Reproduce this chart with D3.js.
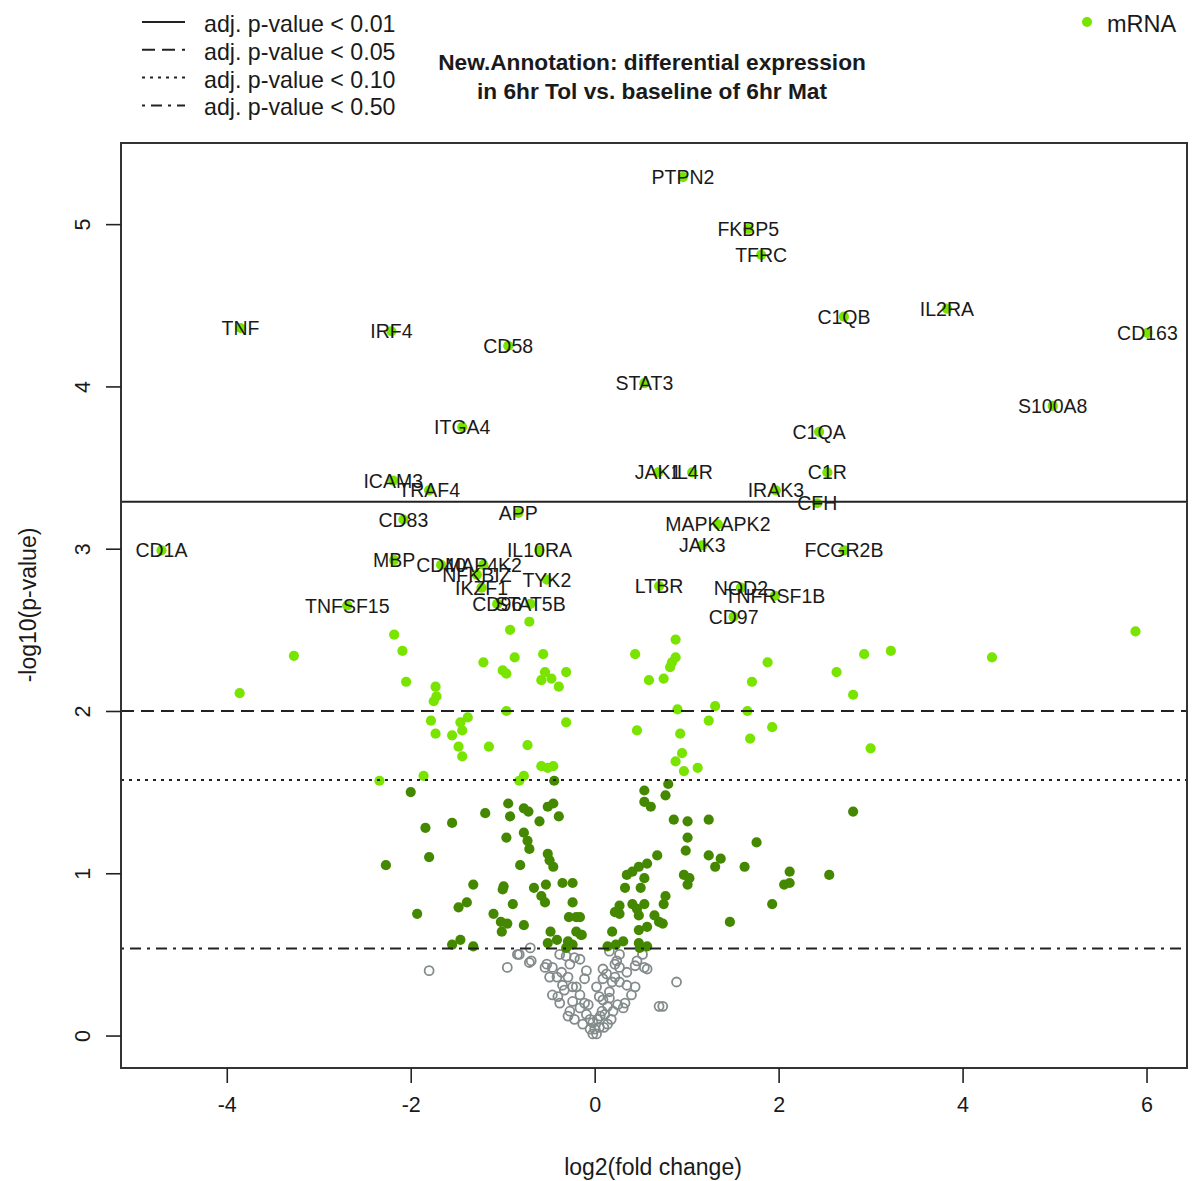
<!DOCTYPE html>
<html><head><meta charset="utf-8">
<script src="https://cdn.jsdelivr.net/npm/d3@7/dist/d3.min.js"></script>
<style>body{margin:0;background:#fff}svg{display:block;font-family:"Liberation Sans",Arial,sans-serif}</style>
</head><body><svg id="c" width="1197" height="1181"></svg>
<script>
// ---------- data ----------
const titleLines = ["New.Annotation: differential expression", "in 6hr Tol vs. baseline of 6hr Mat"];
const xLabel = "log2(fold change)";
const yLabel = "-log10(p-value)";
const xTicks = [-4, -2, 0, 2, 4, 6];
const yTicks = [0, 1, 2, 3, 4, 5];
const thresholdLabels = ["adj. p-value < 0.01", "adj. p-value < 0.05", "adj. p-value < 0.10", "adj. p-value < 0.50"];
const thresholdValues = [3.29, 2.0, 1.574, 0.537];
const seriesName = "mRNA";

const labelGenes = ["PTPN2","FKBP5","TFRC","C1QB","IL2RA","CD163","TNF","IRF4","CD58","STAT3","S100A8","ITGA4","C1QA","JAK1","IL4R","C1R","IRAK3","CFH","ICAM3","TRAF4","CD83","APP","MAPKAPK2","JAK3","FCGR2B","LTBR","NOD2","TNFRSF1B","CD97","CD1A","MBP","CD40","MAP4K2","NFKBIZ","IL10RA","TYK2","IKZF1","CD96","STAT5B","TNFSF15"];
const labelX = [0.96,1.67,1.81,2.71,3.83,6.01,-3.85,-2.21,-0.94,0.54,4.98,-1.44,2.44,0.69,1.06,2.53,1.97,2.42,-2.19,-1.80,-2.08,-0.83,1.34,1.17,2.71,0.70,1.59,1.96,1.51,-4.71,-2.18,-1.67,-1.21,-1.28,-0.60,-0.52,-1.23,-1.06,-0.70,-2.69];
const labelY = [5.29,4.97,4.81,4.43,4.48,4.33,4.36,4.34,4.25,4.02,3.88,3.75,3.72,3.47,3.47,3.47,3.36,3.28,3.42,3.36,3.18,3.22,3.15,3.02,2.99,2.77,2.76,2.71,2.58,2.99,2.93,2.90,2.90,2.84,2.99,2.81,2.76,2.66,2.66,2.65];

// adj. p < 0.10 (unlabeled)
const lightPts = [
[-2.18,2.47],[-0.92,2.50],[-0.71,2.55],[-3.27,2.34],[-2.09,2.37],[-1.21,2.30],[-0.87,2.33],[-0.56,2.35],
[-1.00,2.25],[-0.96,2.23],[-0.54,2.24],[-0.31,2.24],[-0.47,2.20],[-0.58,2.19],[-3.86,2.11],[-2.05,2.18],
[-1.73,2.15],[-1.72,2.09],[-1.75,2.06],[-0.39,2.15],[-0.96,2.00],[-1.78,1.94],[-1.38,1.96],[-1.46,1.93],
[-1.44,1.88],[-0.31,1.93],[-1.73,1.86],[-1.55,1.85],[-1.48,1.78],[-1.15,1.78],[-0.73,1.79],[-1.44,1.72],
[-0.58,1.66],[-0.51,1.65],[-0.45,1.66],[-1.86,1.60],[-2.34,1.57],[-0.77,1.60],[-0.82,1.57],
[5.88,2.49],[0.88,2.44],[0.44,2.35],[2.93,2.35],[3.22,2.37],[4.32,2.33],[0.88,2.33],[0.84,2.30],[0.82,2.27],
[0.59,2.19],[0.75,2.20],[1.88,2.30],[1.71,2.18],[2.63,2.24],[2.81,2.10],[0.90,2.01],[1.31,2.03],[1.66,2.00],
[1.24,1.94],[1.93,1.90],[0.46,1.88],[0.93,1.86],[1.69,1.83],[3.00,1.77],[0.95,1.74],[0.88,1.69],[0.97,1.63],[1.12,1.65]
];
// adj. p < 0.50
const darkPts = [
[-0.44,1.57],[-2.00,1.50],[-0.94,1.43],[-1.19,1.37],[-0.92,1.35],[-0.77,1.40],[-0.72,1.38],[-0.60,1.32],
[-0.51,1.41],[-0.45,1.43],[-0.39,1.35],[-1.55,1.31],[-1.84,1.28],[-0.96,1.22],[-0.77,1.25],[-0.73,1.20],
[-0.71,1.15],[-1.80,1.10],[-0.51,1.12],[-0.49,1.08],[-0.45,1.04],[-0.81,1.05],[-2.27,1.05],[-1.32,0.93],
[-0.99,0.92],[-1.00,0.90],[-0.66,0.91],[-0.53,0.93],[-0.35,0.94],[-0.24,0.94],[-1.39,0.82],[-1.48,0.79],
[-0.89,0.81],[-0.58,0.86],[-0.54,0.82],[-0.24,0.82],[-1.93,0.75],[-1.10,0.75],[-0.28,0.73],[-0.20,0.73],
[-1.02,0.70],[-0.95,0.69],[-0.77,0.68],[-1.01,0.64],[-0.48,0.64],[-0.20,0.64],[-0.15,0.62],[-1.46,0.59],
[-1.55,0.56],[-1.32,0.55],[-0.51,0.57],[-0.41,0.59],[-0.29,0.58],[-0.24,0.56],[-0.31,0.54],
[0.80,1.55],[0.54,1.51],[0.77,1.48],[0.54,1.44],[0.61,1.41],[2.81,1.38],[0.86,1.33],[1.01,1.32],[1.24,1.33],
[1.01,1.22],[1.76,1.19],[0.99,1.14],[0.68,1.11],[1.24,1.11],[1.37,1.09],[0.57,1.06],[0.48,1.04],[1.31,1.04],
[1.63,1.04],[2.12,1.01],[0.41,1.01],[0.35,0.99],[0.97,0.99],[1.03,0.97],[0.54,0.97],[2.55,0.99],[1.01,0.93],
[2.06,0.93],[2.12,0.94],[0.33,0.91],[0.50,0.91],[0.77,0.86],[0.75,0.81],[0.41,0.81],[0.54,0.81],[1.93,0.81],
[0.27,0.80],[0.22,0.76],[0.27,0.75],[0.48,0.74],[0.46,0.78],[0.65,0.74],[0.70,0.70],[0.74,0.69],[1.47,0.70],
[0.48,0.65],[0.57,0.67],[0.19,0.64],[-0.14,0.62],[-0.16,0.73],[0.31,0.58],[0.48,0.57],[0.14,0.55],[0.23,0.56],
[0.57,0.55],[0.49,0.54]
];
// not significant
const greyPts = [
[-1.80,0.40],[-0.95,0.42],[-0.84,0.50],[-0.70,0.54],[-0.71,0.45],[0.89,0.33],[0.74,0.18],[0.70,0.18],[0.57,0.41],
[-0.82,0.50],[-0.69,0.46],[-0.54,0.42],[-0.52,0.44],[-0.46,0.42],[-0.49,0.36],[-0.41,0.36],[-0.36,0.39],
[-0.27,0.44],[-0.22,0.48],[-0.16,0.47],[-0.31,0.49],[-0.38,0.50],[-0.29,0.36],[-0.35,0.31],[-0.46,0.25],
[-0.40,0.24],[-0.38,0.20],[-0.24,0.30],[-0.09,0.40],[-0.11,0.35],[-0.16,0.25],[-0.24,0.21],[-0.27,0.15],
[-0.29,0.12],[-0.22,0.10],[-0.16,0.17],[-0.11,0.20],[-0.09,0.13],[-0.13,0.07],[-0.05,0.04],[-0.02,0.01],
[0.02,0.01],[0.05,0.05],[0.03,0.10],[0.08,0.15],[0.05,0.24],[0.09,0.22],[0.14,0.18],[0.16,0.23],[0.11,0.13],
[0.14,0.07],[0.20,0.15],[0.25,0.19],[0.33,0.20],[0.31,0.17],[0.16,0.27],[0.19,0.33],[0.13,0.38],[0.09,0.35],
[0.22,0.36],[0.27,0.33],[0.35,0.31],[0.44,0.30],[0.27,0.42],[0.22,0.44],[0.24,0.46],[0.27,0.50],[0.16,0.52],
[0.35,0.39],[0.44,0.43],[0.46,0.46],[0.54,0.42],[0.52,0.50],[0.02,0.30],[0.09,0.41],[-0.05,0.10],[0.00,0.04],
[-0.20,0.30],[0.10,0.05],[-0.07,0.19],[0.18,0.10],[-0.33,0.28],[0.40,0.25],[-0.02,0.08],[0.06,0.12]
];

// ---------- styles ----------
const colLight = "#78E400", colDark = "#448800", colGrey = "#838B8B", ink = "#1a1a1a";
const dashes = [null, "13,7", "3,5", "3,6,11,6"];
const fmt = d => String(d); // plain hyphen-minus like the reference

const svg = d3.select("#c");
const M = {left: 121, right: 1187, top: 143, bottom: 1068};
const x = d3.scaleLinear().domain([-5.15, 6.44]).range([M.left, M.right]);
const y = d3.scaleLinear().domain([-0.2, 5.5]).range([M.bottom, M.top]);

// points
const plot = svg.append("g");
plot.selectAll(".g").data(greyPts).join("circle")
  .attr("cx", d => x(d[0])).attr("cy", d => y(d[1])).attr("r", 4.5)
  .attr("fill", "none").attr("stroke", colGrey).attr("stroke-width", 1.8);
plot.selectAll(".d").data(darkPts).join("circle")
  .attr("cx", d => x(d[0])).attr("cy", d => y(d[1])).attr("r", 5.1).attr("fill", colDark);
plot.selectAll(".l").data(lightPts).join("circle")
  .attr("cx", d => x(d[0])).attr("cy", d => y(d[1])).attr("r", 5.1).attr("fill", colLight);
const lab = labelGenes.map((g, i) => ({g, x: labelX[i], y: labelY[i]}));
plot.selectAll(".lp").data(lab).join("circle")
  .attr("cx", d => x(d.x)).attr("cy", d => y(d.y)).attr("r", 5.1).attr("fill", colLight);
plot.selectAll(".lt").data(lab).join("text")
  .attr("x", d => x(d.x)).attr("y", d => y(d.y)).attr("dy", "0.36em")
  .attr("text-anchor", "middle").attr("font-size", 19.5).attr("fill", ink).text(d => d.g);

// threshold lines
svg.selectAll(".th").data(thresholdValues).join("line")
  .attr("x1", M.left).attr("x2", M.right).attr("y1", d => y(d)).attr("y2", d => y(d))
  .attr("stroke", "#222").attr("stroke-width", 2)
  .attr("stroke-dasharray", (d, i) => dashes[i]);

// box
svg.append("rect").attr("x", M.left).attr("y", M.top).attr("width", M.right - M.left).attr("height", M.bottom - M.top)
  .attr("fill", "none").attr("stroke", "#333").attr("stroke-width", 2);

// x axis
const xa = svg.append("g").attr("transform", `translate(0,${M.bottom})`)
  .call(d3.axisBottom(x).tickValues(xTicks).tickSize(15).tickPadding(14).tickFormat(fmt));
xa.select(".domain").remove();
xa.selectAll("line").attr("stroke", "#222").attr("stroke-width", 1.6);
xa.selectAll("text").attr("font-size", 21.5).attr("fill", ink).attr("font-family", "Liberation Sans, Arial, sans-serif");

// y axis
const ya = svg.append("g").attr("transform", `translate(${M.left},0)`)
  .call(d3.axisLeft(y).tickValues(yTicks).tickSize(15).tickPadding(0).tickFormat(fmt));
ya.select(".domain").remove();
ya.selectAll("line").attr("stroke", "#222").attr("stroke-width", 1.6);
ya.selectAll("text").attr("x", -38).attr("dy", null).attr("dominant-baseline", "central")
  .attr("text-anchor", "middle").attr("transform", "rotate(-90,-38,0)")
  .attr("font-size", 21.5).attr("fill", ink).attr("font-family", "Liberation Sans, Arial, sans-serif");

// axis titles
svg.append("text").attr("x", 653).attr("y", 1167).attr("dominant-baseline", "central")
  .attr("text-anchor", "middle").attr("font-size", 23).attr("fill", ink).text(xLabel);
svg.append("text").attr("transform", "translate(28,605) rotate(-90)").attr("dominant-baseline", "central")
  .attr("text-anchor", "middle").attr("font-size", 23).attr("fill", ink).text(yLabel);

// title
svg.selectAll(".tt").data(titleLines).join("text")
  .attr("x", 652).attr("y", (d, i) => 62 + i * 29).attr("dominant-baseline", "central")
  .attr("text-anchor", "middle").attr("font-size", 22.7).attr("font-weight", "bold").attr("fill", ink).text(d => d);

// threshold legend
const lg = svg.append("g");
thresholdLabels.forEach((t, i) => {
  const yy = 24 + i * 27.8;
  lg.append("line").attr("x1", 142).attr("x2", 185).attr("y1", yy - 2).attr("y2", yy - 2)
    .attr("stroke", "#222").attr("stroke-width", 2).attr("stroke-dasharray", dashes[i]);
  lg.append("text").attr("x", 204).attr("y", yy).attr("dominant-baseline", "central")
    .attr("font-size", 23.2).attr("fill", ink).text(t);
});
// series legend
svg.append("circle").attr("cx", 1087).attr("cy", 22).attr("r", 5).attr("fill", colLight);
svg.append("text").attr("x", 1107).attr("y", 24).attr("dominant-baseline", "central")
  .attr("font-size", 23.5).attr("fill", ink).text(seriesName);
</script></body></html>
